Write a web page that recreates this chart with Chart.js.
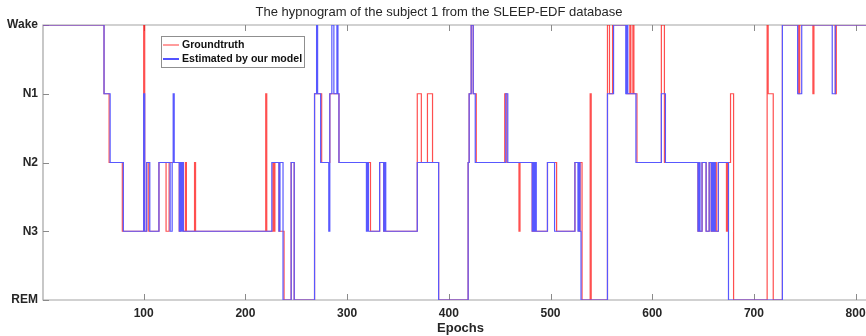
<!DOCTYPE html>
<html>
<head>
<meta charset="utf-8">
<script src="https://cdn.jsdelivr.net/npm/chart.js@4.4.1/dist/chart.umd.min.js"></script>
<style>
  html, body { margin: 0; padding: 0; background: #fff; overflow: hidden; }
  #wrap { width: 922px; height: 336px; }
</style>
</head>
<body>
<div id="wrap"><canvas id="hypnoChart" width="922" height="336"></canvas></div>
<script>
// Sleep stages, bottom to top (0 = REM ... 4 = Wake)
const stageLabels = ['REM', 'N3', 'N2', 'N1', 'Wake'];
const xTickValues = [100, 200, 300, 400, 500, 600, 700, 800];
const xMin = 1;
const xMax = 822;

// Groundtruth: epoch where each run starts, and its stage
const gtStart = [1, 61, 66, 79, 100, 101, 103, 105, 115, 122, 125, 135, 136, 139, 141, 142, 150, 151,
  220, 221, 227, 228, 229, 233, 238, 245, 248, 268, 275, 283, 292, 323, 332, 336, 369, 373, 379, 384,
  390, 419, 420, 422, 424, 427, 455, 457, 469, 470, 482, 484, 485, 497, 506, 524, 528, 529, 531, 539,
  540, 556, 558, 561, 575, 578, 579, 581, 582, 585, 609, 612, 645, 649, 653, 656, 658, 660, 661, 662,
  663, 665, 673, 674, 677, 680, 713, 714, 719, 728, 744, 745, 758, 759, 780, 781];
const gtStage = [4, 3, 2, 1, 4, 1, 2, 1, 2, 1, 2, 1, 2, 1, 2, 1, 2, 1,
  3, 1, 2, 1, 2, 1, 0, 2, 0, 3, 2, 3, 2, 1, 2, 1, 3, 2, 3, 2,
  0, 2, 3, 4, 3, 2, 3, 2, 1, 2, 1, 2, 1, 2, 1, 2, 1, 2, 0, 3,
  0, 4, 3, 4, 3, 4, 3, 4, 3, 2, 4, 2, 1, 2, 1, 2, 1, 2, 1, 2,
  1, 2, 1, 2, 3, 0, 4, 3, 0, 4, 3, 4, 3, 4, 3, 4];

// Estimated by the model
const estStart = [1, 61, 67, 80, 100, 101, 103, 106, 115, 126, 128, 129, 130, 135, 136, 137, 138, 139,
  226, 233, 234, 237, 245, 248, 268, 270, 271, 274, 282, 283, 285, 287, 290, 291, 292, 319, 320, 321,
  332, 336, 337, 338, 369, 390, 419, 420, 422, 424, 426, 456, 458, 482, 483, 484, 485, 486, 497, 504,
  524, 527, 528, 529, 530, 556, 562, 574, 575, 576, 584, 609, 613, 645, 646, 647, 649, 653, 656, 658,
  659, 660, 661, 662, 665, 675, 728, 743, 747, 777, 780];
const estStage = [4, 3, 2, 1, 3, 1, 2, 1, 2, 1, 2, 3, 2, 1, 2, 1, 2, 1,
  2, 1, 2, 0, 2, 0, 3, 4, 3, 2, 1, 3, 4, 3, 4, 3, 2, 1, 2, 1,
  2, 1, 2, 1, 2, 0, 2, 3, 4, 3, 2, 3, 2, 1, 2, 1, 2, 1, 2, 1,
  2, 1, 2, 1, 0, 3, 4, 3, 4, 3, 2, 3, 2, 1, 2, 1, 2, 1, 2, 1,
  2, 1, 2, 1, 2, 0, 4, 3, 4, 3, 4];

function toSteps(starts, stages) {
    const pts = starts.map((s, i) => ({ x: s, y: stages[i] }));
    pts.push({ x: xMax, y: stages[stages.length - 1] });
    return pts;
}

const FONT = "'Liberation Sans', Arial, Helvetica, sans-serif";

// axes box + inward tick marks, MATLAB style
const axesBox = {
    id: 'axesBox',
    beforeDatasetsDraw(chart) {
        const { ctx, chartArea: ca, scales } = chart;
        ctx.save();
        ctx.strokeStyle = '#a3a3a3';
        ctx.lineWidth = 1.2;
        ctx.beginPath();
        ctx.moveTo(ca.right, ca.top);
        ctx.lineTo(ca.left, ca.top);
        ctx.lineTo(ca.left, ca.bottom);
        ctx.lineTo(ca.right, ca.bottom);
        ctx.stroke();
        ctx.strokeStyle = '#8a8a8a';
        ctx.lineWidth = 1;
        ctx.beginPath();
        xTickValues.forEach(v => {
            const px = Math.round(scales.x.getPixelForValue(v)) + 0.5;
            ctx.moveTo(px, ca.bottom); ctx.lineTo(px, ca.bottom - 6);
            ctx.moveTo(px, ca.top); ctx.lineTo(px, ca.top + 6);
        });
        stageLabels.forEach((_, i) => {
            const py = Math.round(scales.y.getPixelForValue(i)) + 0.5;
            ctx.moveTo(ca.left, py); ctx.lineTo(ca.left + 6, py);
        });
        ctx.stroke();
        ctx.restore();
    }
};

// boxed legend inside the axes
const boxLegend = {
    id: 'boxLegend',
    afterDraw(chart) {
        const { ctx, chartArea: ca } = chart;
        const x0 = ca.left + 118, y0 = ca.top + 11, w = 143, h = 31;
        ctx.save();
        ctx.fillStyle = '#fff';
        ctx.fillRect(x0, y0, w, h);
        ctx.strokeStyle = '#8f8f8f';
        ctx.lineWidth = 1;
        ctx.strokeRect(x0 + 0.5, y0 + 0.5, w, h);
        ctx.font = 'bold 10.6px ' + FONT;
        ctx.textBaseline = 'middle';
        ctx.fillStyle = '#111';
        chart.data.datasets.forEach((ds, i) => {
            const y = y0 + 9 + i * 14;
            ctx.strokeStyle = ds.legendColor;
            ctx.lineWidth = 1.6;
            ctx.beginPath();
            ctx.moveTo(x0 + 2, y); ctx.lineTo(x0 + 18, y);
            ctx.stroke();
            ctx.fillText(ds.label, x0 + 21, y + 0.5);
        });
        ctx.restore();
    }
};

const ctx = document.getElementById('hypnoChart').getContext('2d');
new Chart(ctx, {
    type: 'line',
    data: {
        datasets: [{
            label: 'Groundtruth',
            data: toSteps(gtStart, gtStage),
            borderColor: 'rgba(255, 20, 20, 0.75)',
            legendColor: 'rgba(255, 90, 90, 0.75)',
            borderWidth: 1.2,
            stepped: true,
            pointRadius: 0,
            order: 1
        }, {
            label: 'Estimated by our model',
            data: toSteps(estStart, estStage),
            borderColor: 'rgb(88, 88, 255)',
            legendColor: 'rgb(40, 40, 255)',
            borderWidth: 1.2,
            stepped: true,
            pointRadius: 0,
            order: 0
        }]
    },
    options: {
        responsive: false,
        animation: false,
        events: [],
        layout: { padding: { left: 0, right: 44, top: 0, bottom: 0 } },
        plugins: {
            legend: { display: false },
            tooltip: { enabled: false },
            title: {
                display: true,
                text: 'The hypnogram of the subject 1 from the SLEEP-EDF database',
                color: '#262626',
                font: { family: FONT, size: 13, weight: 'normal' },
                padding: { top: 5, bottom: 4.4 }
            }
        },
        scales: {
            x: {
                type: 'linear',
                min: xMin,
                max: xMax,
                grid: { display: false, drawTicks: false },
                border: { display: false },
                afterBuildTicks: (scale) => { scale.ticks = xTickValues.map(v => ({ value: v })); },
                afterFit: (scale) => { scale.height = 36; },
                ticks: {
                    color: '#262626',
                    padding: 6,
                    maxRotation: 0,
                    font: { family: FONT, size: 12, weight: 'bold' }
                },
                title: {
                    display: true,
                    text: 'Epochs',
                    color: '#262626',
                    font: { family: FONT, size: 13, weight: 'bold' },
                    padding: { top: 0, bottom: 0 }
                }
            },
            y: {
                min: 0,
                max: 4,
                grid: { display: false, drawTicks: false },
                border: { display: false },
                afterFit: (scale) => { scale.width = 43; },
                ticks: {
                    stepSize: 1,
                    padding: 5,
                    color: '#262626',
                    font: { family: FONT, size: 12, weight: 'bold' },
                    callback: (v) => stageLabels[v]
                }
            }
        }
    },
    plugins: [axesBox, boxLegend]
});
</script>
</body>
</html>
